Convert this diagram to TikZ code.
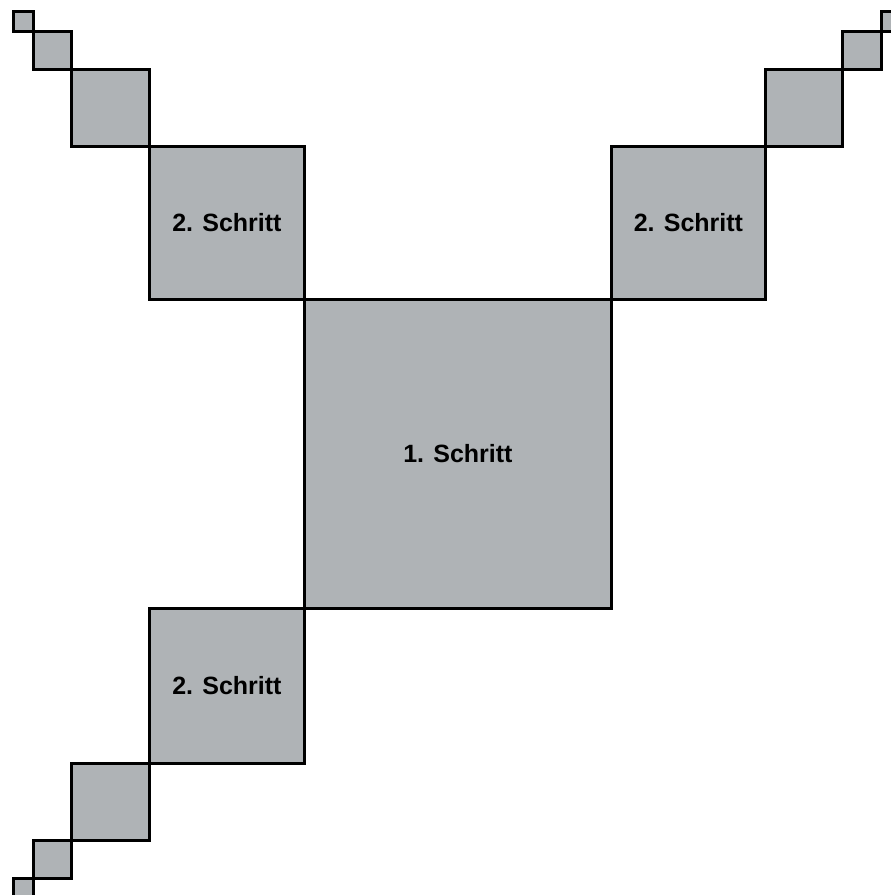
\documentclass[tikz,border=0pt]{standalone}
\usepackage{fontspec}
\setmainfont{Liberation Sans}
\definecolor{boxgray}{RGB}{175,179,182}
\begin{document}
\begin{tikzpicture}[x=1pt,y=-1pt,
  sq/.style={draw=black, fill=boxgray, line width=2.8pt, rectangle, inner sep=0pt,
    anchor=north west, font=\fontsize{25}{30}\selectfont\bfseries},
  sz/.style={minimum width=#1pt, minimum height=#1pt}]
\useasboundingbox (0,0) rectangle (891,895);
\clip (0,0) rectangle (891,895);
% central square
\node[sq, minimum width=307pt, minimum height=309pt] (c) at (303,298) {1. Schritt};
% second step
\node[sq, minimum width=155pt, minimum height=153pt] (tl2) at (148,145) {2. Schritt};
\node[sq, minimum width=154pt, minimum height=153pt] (tr2) at (610,145) {2. Schritt};
\node[sq, minimum width=155pt, minimum height=155pt] (bl2) at (148,607) {2. Schritt};
% third step
\node[sq, minimum width=78pt, minimum height=77pt] (tl3) at (70,68) {};
\node[sq, minimum width=77pt, minimum height=77pt] (tr3) at (764,68) {};
\node[sq, minimum width=78pt, minimum height=77pt] (bl3) at (70,762) {};
% fourth step
\node[sq, sz=38] (tl4) at (32,30) {};
\node[sq, minimum width=39pt, minimum height=38pt] (tr4) at (841,30) {};
\node[sq, sz=38] (bl4) at (32,839) {};
% fifth step
\node[sq, minimum width=20pt, minimum height=20pt] (tl5) at (12,10) {};
\node[sq, minimum width=20pt, minimum height=20pt] (tr5) at (880,10) {};
\node[sq, minimum width=20pt, minimum height=20pt] (bl5) at (12,877) {};
\end{tikzpicture}
\end{document}
